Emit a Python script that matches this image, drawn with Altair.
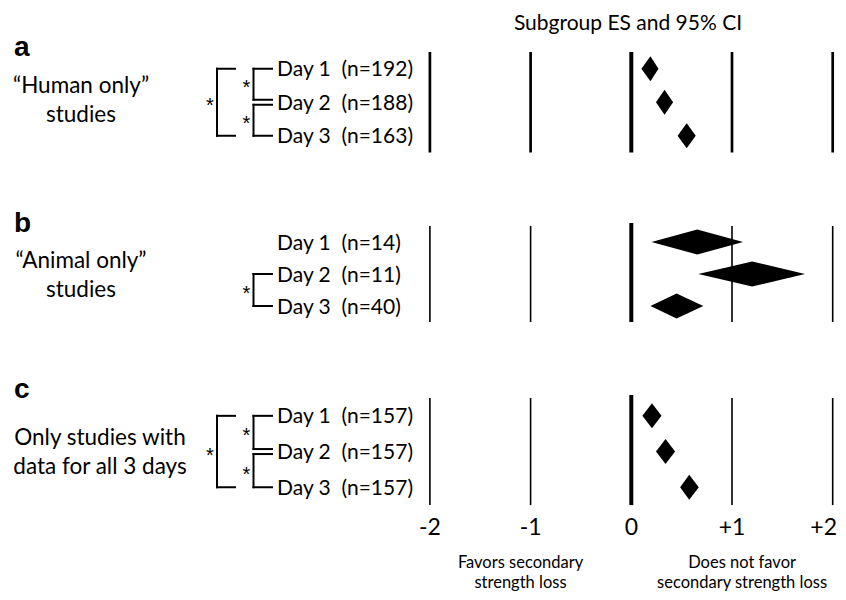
import altair as alt
import pandas as pd

# ---------------- data ----------------
panels = ["a", "b", "c"]
group_labels = ["\u201cHuman only\u201d\nstudies",
                "\u201cAnimal only\u201d\nstudies",
                "Only studies with\ndata for all 3 days"]
days = ["Day 1", "Day 2", "Day 3"]
n_a = [192, 188, 163]
n_b = [14, 11, 40]
n_c = [157, 157, 157]
es_a = [0.19, 0.33, 0.55]
lo_a = [0.10, 0.245, 0.46]
hi_a = [0.27, 0.415, 0.64]
es_b = [0.655, 1.20, 0.45]
lo_b = [0.20, 0.665, 0.19]
hi_b = [1.11, 1.725, 0.715]
es_c = [0.205, 0.34, 0.575]
lo_c = [0.11, 0.245, 0.485]
hi_c = [0.30, 0.435, 0.67]
sig_a = [(1, 2), (2, 3), (1, 3)]
sig_b = [(2, 3)]
sig_c = [(1, 2), (2, 3), (1, 3)]
ticks = [-2, -1, 0, 1, 2]
tick_labels = ["-2", "-1", "0", "+1", "+2"]
title_text = "Subgroup ES and 95% CI"
note_left = "Favors secondary\nstrength loss"
note_right = "Does not favor\nsecondary strength loss"
note_pos = [-1.1, 1.1]

# ---------------- layout (page pixels) ----------------
W, H = 830, 584
X0, UNIT = 631.3, 100.7          # page x of ES=0, pixels per ES unit
def px2x(px):
    return (px - X0) / UNIT

PANEL_TOP = {"a": 52, "b": 226, "c": 398}
ROW_SP = {"a": 33.5, "b": 32.0, "c": 35.7}
DIAMOND_H = 12.5
FONT = "Lato"

n_all = {"a": n_a, "b": n_b, "c": n_c}
es_all = {"a": es_a, "b": es_b, "c": es_c}
lo_all = {"a": lo_a, "b": lo_b, "c": lo_c}
hi_all = {"a": hi_a, "b": hi_b, "c": hi_c}
sig_all = {"a": sig_a, "b": sig_b, "c": sig_c}

def row_y(p, i):
    return PANEL_TOP[p] + (i + 0.5) * ROW_SP[p]

# diamonds
dia = []
for p in panels:
    for i in range(3):
        yc = row_y(p, i)
        did = f"{p}{i}"
        dia.append({"id": did, "x": lo_all[p][i], "y": yc, "y2": yc})
        dia.append({"id": did, "x": es_all[p][i], "y": yc - DIAMOND_H, "y2": yc + DIAMOND_H})
        dia.append({"id": did, "x": hi_all[p][i], "y": yc, "y2": yc})
dia = pd.DataFrame(dia)

# vertical reference lines
grid = []
for p in panels:
    top = PANEL_TOP[p]
    bot = top + 3 * ROW_SP[p]
    for t in ticks:
        kind = "zero" if t == 0 else ("thick" if p == "a" else "thin")
        grid.append({"x": t, "y": top - (3 if (t == 0 and p != "a") else 0), "y2": bot, "kind": kind})
grid = pd.DataFrame(grid)

# day labels
lab = []
for p in panels:
    for i in range(3):
        lab.append({"x": px2x(277), "y": row_y(p, i) + 7.5,
                    "text": f"{days[i]}\u00a0\u00a0(n={n_all[p][i]})"})
lab = pd.DataFrame(lab)

# significance brackets
seg, stars = [], []
for p in panels:
    comps = sig_all[p]
    n_inner = sum(1 for a, b in comps if b - a == 1)
    for a, b in comps:
        inner = (b - a == 1)
        bx = 253.5 if inner else 217
        ln = 18.5 if inner else 18
        y1 = row_y(p, a - 1)
        y2 = row_y(p, b - 1)
        if inner and n_inner == 2:
            if a == 2:
                y1 += 2.5
            if b == 2:
                y2 -= 2.5
        seg.append({"x": px2x(bx), "x2": px2x(bx), "y": y1, "y2": y2})
        seg.append({"x": px2x(bx), "x2": px2x(bx + ln), "y": y1, "y2": y1})
        seg.append({"x": px2x(bx), "x2": px2x(bx + ln), "y": y2, "y2": y2})
        stars.append({"x": px2x(bx - 7), "y": (y1 + y2) / 2 + 10, "text": "*"})
seg = pd.DataFrame(seg)
stars = pd.DataFrame(stars)

groups = pd.DataFrame({
    "x": [px2x(81), px2x(81), px2x(100)],
    "y": [93, 268, 445],
    "text": group_labels,
})
letters = pd.DataFrame({
    "x": [px2x(14)] * 3,
    "y": [56, 231.5, 398],
    "text": panels,
})
tick_df = pd.DataFrame({"x": ticks, "y": [535] * 5, "text": tick_labels})
notes = pd.DataFrame({"x": note_pos, "y": [568, 568], "text": [note_left, note_right]})
title_df = pd.DataFrame({"x": [px2x(628)], "y": [30], "text": [title_text]})

xs = alt.Scale(domain=[px2x(8), px2x(8 + W)], nice=False, zero=False)
ys = alt.Scale(domain=[8, 8 + H], reverse=True, nice=False, zero=False)
X = lambda f="x": alt.X(f"{f}:Q", scale=xs, axis=None)
Y = lambda f="y": alt.Y(f"{f}:Q", scale=ys, axis=None)

def rules(kind, w):
    return alt.Chart(grid).transform_filter(alt.datum.kind == kind).mark_rule(
        color="black", strokeWidth=w).encode(x=X(), y=Y(), y2="y2:Q")

diamonds = alt.Chart(dia).mark_area(color="black", opacity=1).encode(
    x=X(), y=Y(), y2="y2:Q", detail="id:N")

brackets = alt.Chart(seg).mark_rule(color="black", strokeWidth=2, strokeCap="square").encode(
    x=X(), x2="x2:Q", y=Y(), y2="y2:Q")

def txt(df, size, align="left", weight="normal", font=FONT, lh=None, dx=0):
    kw = dict(align=align, baseline="alphabetic", fontSize=size, font=font,
              fontWeight=weight, color="black", lineBreak="\n", dx=dx)
    if lh:
        kw["lineHeight"] = lh
    return alt.Chart(df).mark_text(**kw).encode(x=X(), y=Y(), text="text:N")

chart = alt.layer(
    rules("thin", 1.6), rules("thick", 2.7), rules("zero", 4),
    diamonds, brackets,
    txt(lab, 21),
    txt(stars, 20, align="center", font="Liberation Sans"),
    txt(groups, 22.5, align="center", lh=29),
    txt(letters, 28, weight="bold", font="Liberation Sans"),
    txt(tick_df[tick_df.x < 2], 23, align="center"),
    txt(tick_df[tick_df.x == 2], 23, align="center", dx=-9),
    txt(notes, 16.5, align="center", lh=20),
    txt(title_df, 21, align="center"),
).properties(width=W, height=H, padding=0, autosize="none").configure_view(stroke=None)

chart.save("out.html", embed_options={"renderer": "svg", "actions": False})
